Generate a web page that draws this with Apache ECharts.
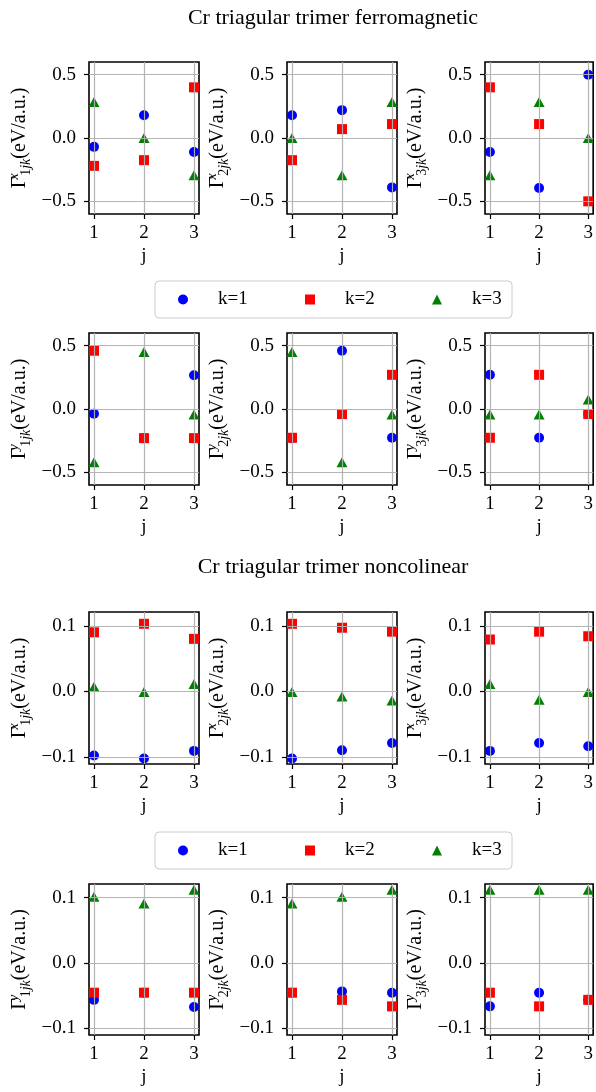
<!DOCTYPE html>
<html><head><meta charset="utf-8">
<script src="https://cdn.jsdelivr.net/npm/echarts@6/dist/echarts.min.js"></script>
<style>html,body{margin:0;padding:0;background:#fff}#c{width:596px;height:1092px}</style>
</head><body><div id="c"></div>
<script>
// ---- data ----
const jValues = [1, 2, 3];
const kNames = ['k=1', 'k=2', 'k=3'];
const titles = ['Cr triagular trimer ferromagnetic', 'Cr triagular trimer noncolinear'];
const xTicks = [1, 2, 3];
const yTicksFerro = [-0.5, 0, 0.5];
const yTicksNoncol = [-0.1, 0, 0.1];

// each panel: [k=1 values, k=2 values, k=3 values] over j = 1,2,3
const ferroX1 = [[-0.07, 0.18, -0.11], [-0.22, -0.175, 0.40], [0.285, 0.0, -0.295]];
const ferroX2 = [[0.18, 0.22, -0.39], [-0.175, 0.07, 0.11], [0.0, -0.295, 0.285]];
const ferroX3 = [[-0.11, -0.395, 0.50], [0.40, 0.11, -0.50], [-0.295, 0.285, 0.0]];
const ferroY1 = [[-0.037, -0.23, 0.267], [0.46, -0.23, -0.23], [-0.42, 0.45, -0.043]];
const ferroY2 = [[-0.23, 0.46, -0.227], [-0.227, -0.04, 0.27], [0.45, -0.42, -0.043]];
const ferroY3 = [[0.27, -0.227, -0.04], [-0.227, 0.27, -0.04], [-0.043, -0.043, 0.075]];
const noncolX1 = [[-0.098, -0.1025, -0.091], [0.090, 0.103, 0.080], [0.007, -0.001, 0.011]];
const noncolX2 = [[-0.1025, -0.090, -0.079], [0.103, 0.097, 0.091], [-0.001, -0.008, -0.014]];
const noncolX3 = [[-0.091, -0.079, -0.084], [0.079, 0.091, 0.084], [0.011, -0.013, -0.001]];
const noncolY1 = [[-0.057, -0.046, -0.068], [-0.046, -0.046, -0.046], [0.1015, 0.091, 0.112]];
const noncolY2 = [[-0.046, -0.044, -0.046], [-0.046, -0.057, -0.067], [0.091, 0.1015, 0.112]];
const noncolY3 = [[-0.067, -0.046, -0.057], [-0.046, -0.067, -0.057], [0.112, 0.112, 0.112]];

// ---- layout / style ----
const F = '"Liberation Serif", "Times New Roman", serif';
const colLeft = [89, 287, 485];
const rowTop = [62, 333, 612, 884];
const rowH = [152, 152, 152, 151];
const W = 110;
const colors = ['#0000ff', '#ff0000', '#008000'];
const symbols = ['circle', 'rect', 'triangle'];
const symSizes = [10, 10, [11, 10]];

const panels = [
  {row: 0, col: 0, comp: 'x', i: 1, d: ferroX1, t: yTicksFerro, r: [-0.6, 0.6]},
  {row: 0, col: 1, comp: 'x', i: 2, d: ferroX2, t: yTicksFerro, r: [-0.6, 0.6]},
  {row: 0, col: 2, comp: 'x', i: 3, d: ferroX3, t: yTicksFerro, r: [-0.6, 0.6]},
  {row: 1, col: 0, comp: 'y', i: 1, d: ferroY1, t: yTicksFerro, r: [-0.6, 0.6]},
  {row: 1, col: 1, comp: 'y', i: 2, d: ferroY2, t: yTicksFerro, r: [-0.6, 0.6]},
  {row: 1, col: 2, comp: 'y', i: 3, d: ferroY3, t: yTicksFerro, r: [-0.6, 0.6]},
  {row: 2, col: 0, comp: 'x', i: 1, d: noncolX1, t: yTicksNoncol, r: [-0.111, 0.121]},
  {row: 2, col: 1, comp: 'x', i: 2, d: noncolX2, t: yTicksNoncol, r: [-0.111, 0.121]},
  {row: 2, col: 2, comp: 'x', i: 3, d: noncolX3, t: yTicksNoncol, r: [-0.111, 0.121]},
  {row: 3, col: 0, comp: 'y', i: 1, d: noncolY1, t: yTicksNoncol, r: [-0.111, 0.121]},
  {row: 3, col: 1, comp: 'y', i: 2, d: noncolY2, t: yTicksNoncol, r: [-0.111, 0.121]},
  {row: 3, col: 2, comp: 'y', i: 3, d: noncolY3, t: yTicksNoncol, r: [-0.111, 0.121]}
];

const fmtNum = v => (v < 0 ? '\u2212' : '') + Math.abs(v).toFixed(1);
const gridLine = {show: true, lineStyle: {color: 'rgba(176,176,176,0.95)', width: 1.2}};
const tickStyle = {show: true, inside: false, length: 5, lineStyle: {color: '#000', width: 1.2}};

const grids = [], xAxes = [], yAxes = [], series = [];
panels.forEach((p, n) => {
  grids.push({left: colLeft[p.col], top: rowTop[p.row], width: W, height: rowH[p.row],
    show: true, borderColor: '#000', borderWidth: 1.6, backgroundColor: 'transparent'});
  xAxes.push({type: 'value', gridIndex: n, position: 'bottom', min: 0.9, max: 3.1, z: 3,
    axisLine: {show: false, onZero: false},
    axisTick: Object.assign({customValues: xTicks}, tickStyle),
    axisLabel: {customValues: xTicks, color: '#000', fontFamily: F, fontSize: 19, margin: 10},
    splitLine: gridLine,
    name: 'j', nameLocation: 'middle', nameGap: 33,
    nameTextStyle: {color: '#000', fontFamily: F, fontSize: 19}
  });
  yAxes.push({type: 'value', gridIndex: n, position: 'left', min: p.r[0], max: p.r[1], z: 3,
    axisLine: {show: false, onZero: false},
    axisTick: Object.assign({customValues: p.t}, tickStyle),
    axisLabel: {customValues: p.t, color: '#000', fontFamily: F, fontSize: 19, margin: 13, formatter: fmtNum},
    splitLine: gridLine,
    name: '{g|\u0393}{sup|' + p.comp + '}{sub|' + p.i + '}{subi|jk}{n|(eV/a.u.)}',
    nameLocation: 'middle', nameRotate: 90, nameGap: 56,
    nameTextStyle: {color: '#000', fontFamily: F, fontSize: 20,
      rich: {
        g: {fontFamily: F, fontSize: 20, lineHeight: 26, verticalAlign: 'middle', color: '#000'},
        sup: {fontFamily: F, fontSize: 14, fontStyle: 'italic', lineHeight: 14, verticalAlign: 'top', width: 1, color: '#000'},
        sub: {fontFamily: F, fontSize: 14, lineHeight: 14, verticalAlign: 'bottom', color: '#000'},
        subi: {fontFamily: F, fontSize: 14, fontStyle: 'italic', lineHeight: 14, verticalAlign: 'bottom', color: '#000'},
        n: {fontFamily: F, fontSize: 20, lineHeight: 26, verticalAlign: 'middle', color: '#000'}
      }}
  });
  p.d.forEach((vals, k) => {
    series.push({type: 'scatter', name: kNames[k], xAxisIndex: n, yAxisIndex: n,
      symbol: symbols[k], symbolSize: symSizes[k], itemStyle: {color: colors[k], opacity: 1},
      z: 2, silent: true, animation: false,
      data: jValues.map((j, idx) => [j, vals[idx]])});
  });
});

const legendTops = [281, 832];
const legends = legendTops.map(t => ({
  top: t, left: 155, orient: 'horizontal', selectedMode: false,
  data: kNames.map((nm, k) => ({name: nm, icon: symbols[k], itemStyle: {opacity: 1}})),
  itemWidth: 10, itemHeight: 10, itemGap: 47,
  padding: [9, 0, 9, 23],
  borderColor: '#cccccc', borderWidth: 1, borderRadius: 4, backgroundColor: '#fff',
  textStyle: {fontFamily: F, fontSize: 19, color: '#000', width: 40, lineHeight: 14, padding: [0, 0, 0, 25]}
}));

const chart = echarts.init(document.getElementById('c'), null, {renderer: 'canvas'});
chart.setOption({
  animation: false,
  backgroundColor: '#fff',
  grid: grids, xAxis: xAxes, yAxis: yAxes, series: series,
  legend: legends,
  graphic: titles.map((tx, n) => ({type: 'text', x: 333, y: [18, 567][n],
    style: {text: tx, fill: '#000', font: '22px ' + F, textAlign: 'center', textVerticalAlign: 'middle'}}))
});
</script></body></html>
